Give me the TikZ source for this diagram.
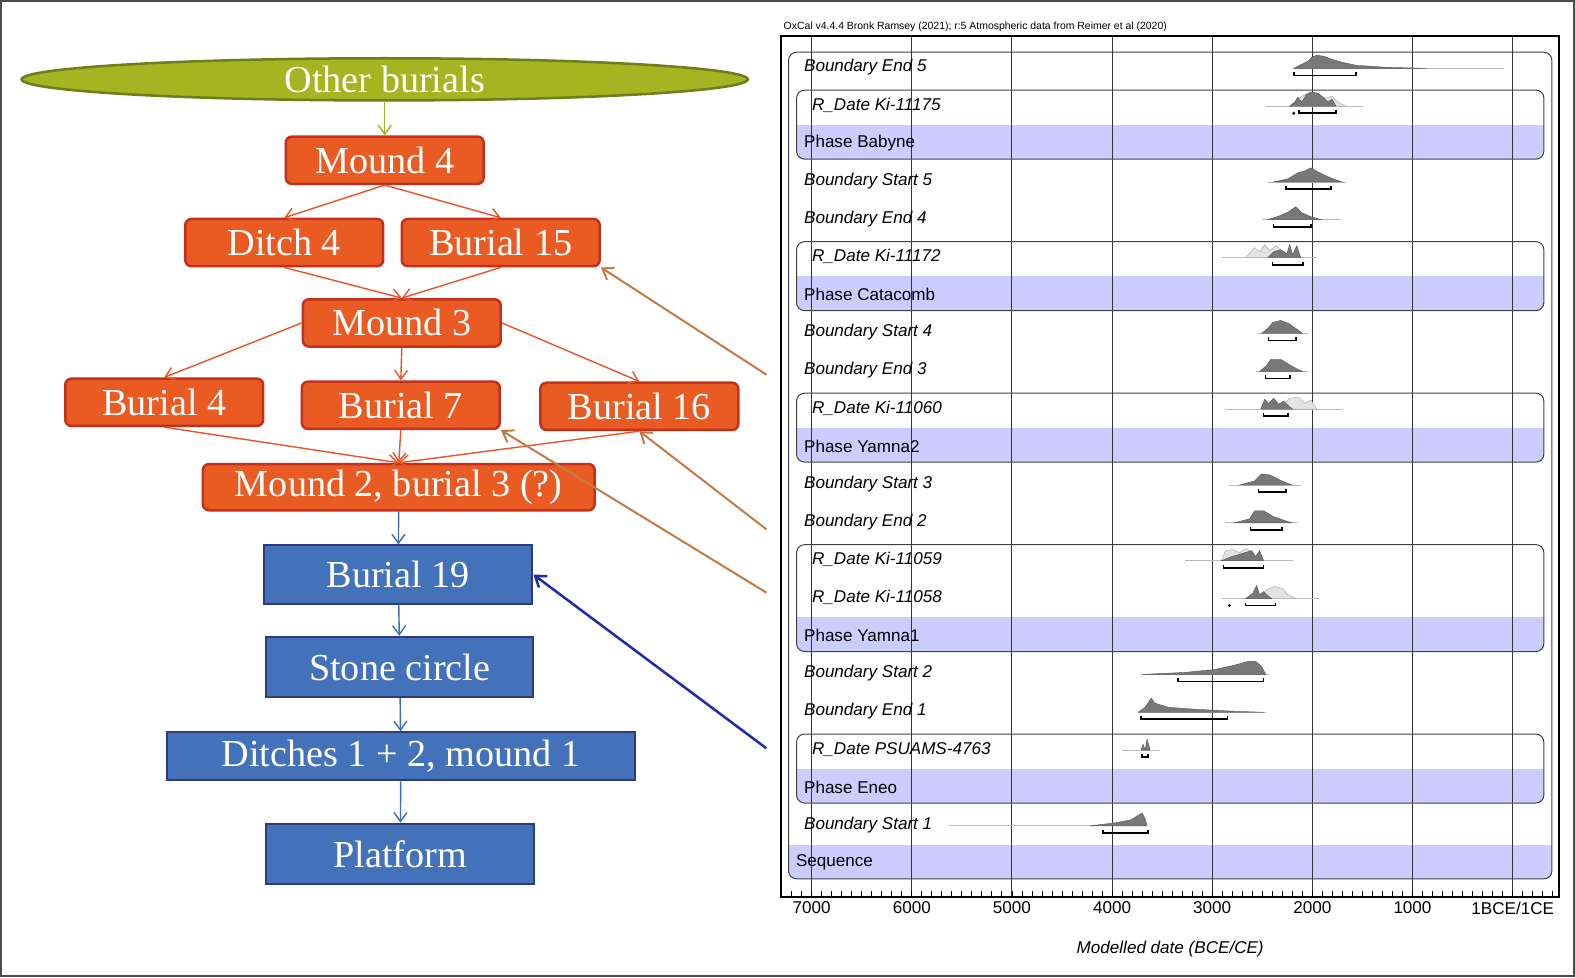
\documentclass[tikz,border=0pt]{standalone}
\usepackage{fontspec}
\setmainfont{Liberation Serif}
\setsansfont{Liberation Sans}
\usepackage{xcolor}
\usepackage{tikz}
\usetikzlibrary{positioning, arrows.meta, shapes.geometric}

\definecolor{olivefill}{HTML}{A5B420}
\definecolor{olivedark}{HTML}{6F7D1C}
\definecolor{olivearrow}{HTML}{A2B21E}
\definecolor{orangefill}{HTML}{E95B22}
\definecolor{orangedark}{HTML}{C4301C}
\definecolor{orangeline}{HTML}{E8542A}
\definecolor{bluefill}{HTML}{4472BA}
\definecolor{bluedark}{HTML}{2D3A7C}
\definecolor{blueline}{HTML}{3B6CB6}
\definecolor{brownline}{HTML}{C47A45}
\definecolor{navyline}{HTML}{1E2CA8}
\definecolor{phaseband}{HTML}{CCCCFF}
\definecolor{distgray}{HTML}{787878}

\begin{document}
\begin{tikzpicture}[x=1pt, y=-1pt,
    other/.style={draw=olivedark, fill=olivefill, ellipse, line width=2.5pt, minimum width=723pt, minimum height=42pt, inner sep=0pt, text=white, font=\fontsize{38}{40}\selectfont},
    late/.style={draw=orangedark, fill=orangefill, rounded corners=6pt, line width=2.5pt, minimum width=197pt, minimum height=47pt, inner sep=0pt, text=white, font=\fontsize{38}{40}\selectfont},
    early/.style={draw=bluedark, fill=bluefill, line width=2pt, minimum width=267pt, minimum height=59pt, inner sep=0pt, text=white, font=\fontsize{38}{40}\selectfont},
    link/.style={-{Straight Barb[length=9pt, width=13pt]}, line width=1.4pt},
    pointer/.style={-{Straight Barb[length=10pt, width=14pt]}, line width=2pt},
    bnd/.style={anchor=west, font=\fontsize{17}{20}\selectfont\sffamily\itshape},
    rdate/.style={bnd, xshift=8pt},
    phs/.style={anchor=west, font=\fontsize{17}{20}\selectfont\sffamily},
    seq/.style={phs, xshift=-8pt},
    band/.style={fill=phaseband},
    phasebox/.style={draw=black!75, line width=1pt, rounded corners=8pt},
    grid/.style={draw=black!80, line width=0.9pt},
    frame/.style={draw=black, line width=2pt},
    base/.style={draw=gray!55, line width=0.8pt},
    dist/.style={fill=distgray, draw=distgray!70!black, line width=0.4pt},
    lik/.style={fill=gray!22, draw=gray!65, line width=0.5pt},
    rng/.style={draw=black, line width=1.6pt},
    axis/.style={font=\fontsize{17}{20}\selectfont\sffamily},
]
\useasboundingbox (0, 0) rectangle (1568, 973);
\draw[line width=2pt, black!70] (1, 1) rectangle (1567, 972);

% sequence of contexts
\node[other] (other) at (383, 79) {Other burials};
\node[late] (m4) at (383, 159.5) {Mound 4};
\node[late] (d4) at (283, 241.5) {Ditch 4};
\node[late] (b15) at (498.5, 241.5) {Burial 15};
\node[late] (m3) at (400, 321.5) {Mound 3};
\node[late] (b4) at (163.5, 400.5) {Burial 4};
\node[late] (b7) at (399, 403.5) {Burial 7};
\node[late] (b16) at (636.5, 404.5) {Burial 16};
\node[late, minimum width=390pt, minimum height=46pt] (m2) at (397, 485) {Mound 2, burial 3 (?)};
\node[early, minimum height=58pt] (b19) at (396.5, 572) {Burial 19};
\node[early, minimum width=266pt, minimum height=60pt] (sc) at (398, 664) {Stone circle};
\node[early, minimum width=466pt, minimum height=48pt] (dit) at (399, 753) {Ditches 1 + 2, mound 1};
\node[early, minimum height=60pt] (pl) at (398.5, 850) {Platform};

\draw[link, olivearrow] (other) -- (m4);
\draw[link, orangeline] (m4.south) -- (d4.north);
\draw[link, orangeline] (m4.south) -- (b15.north);
\draw[link, orangeline] (d4.south) -- (m3.north);
\draw[link, orangeline] (b15.south) -- (m3.north);
\draw[link, orangeline] (m3.west) -- (b4.north);
\draw[link, orangeline] (m3.south) -- (b7.north);
\draw[link, orangeline] (m3.east) -- (b16.north);
\draw[link, orangeline] (b4.south) -- (m2.north);
\draw[link, orangeline] (b7.south) -- (m2.north);
\draw[link, orangeline] (b16.south) -- (m2.north);
\draw[link, blueline] (m2) -- (b19);
\draw[link, blueline] (b19) -- (sc);
\draw[link, blueline] (sc) -- (dit);
\draw[link, blueline] (dit) -- (pl);

\coordinate (p15) at (763, 373);
\coordinate (p16) at (763, 527);
\coordinate (p7) at (763, 590);
\coordinate (p19) at (763, 745);
\draw[pointer, brownline] (p15) -- (b15.south east);
\draw[pointer, brownline] (p16) -- (b16.south);
\draw[pointer, brownline] (p7) -- (b7.south east);
\draw[pointer, navyline, line width=2.5pt] (p19) -- (b19.east);

% OxCal plot
\node[anchor=west, inner sep=0pt, font=\fontsize{10.4}{12}\selectfont\sffamily] (head) at (780, 27) {OxCal v4.4.4 Bronk Ramsey (2021); r:5 Atmospheric data from Reimer et al (2020)};

\foreach \a/\b/\l/\r in {1/22/785/1545, 2/3/793/1537, 6/7/793/1537, 10/11/793/1537, 14/16/793/1537, 19/20/793/1537} {
  \begin{scope}
    \clip[rounded corners=8pt] (\l, {67+(\a-1)*37.71-15}) rectangle (\r, {67+(\b-1)*37.71+16});
    \fill[band] (\l, {67+(\b-1)*37.71-18}) rectangle (\r, {67+(\b-1)*37.71+16});
  \end{scope}
}
\foreach \k in {0,...,7}
  \draw[grid] ({808+99.7*\k}, 36) -- ({808+99.7*\k}, 893);
\foreach \a/\b/\l/\r in {1/22/785/1545, 2/3/793/1537, 6/7/793/1537, 10/11/793/1537, 14/16/793/1537, 19/20/793/1537}
  \draw[phasebox] (\l, {67+(\a-1)*37.71-15}) rectangle (\r, {67+(\b-1)*37.71+16});

\draw[frame] (778, 893) -- (778, 36) -- (1552, 36) -- (1552, 893) -- cycle;
\foreach \k in {-2,...,74}
  \draw[black, line width=0.8pt] ({808+9.97*\k}, 893) -- ({808+9.97*\k}, 887);

\foreach \k/\t in {0/7000, 1/6000, 2/5000, 3/4000, 4/3000, 5/2000, 6/1000}
  \node[axis] (ax\k) at ({808+99.7*\k}, 904) {\t};
\node[axis] (ax7) at (1506, 904) {1BCE/1CE};
\node[axis, font=\fontsize{17}{20}\selectfont\sffamily\itshape] (xlabel) at (1165, 945) {Modelled date (BCE/CE)};

\foreach \i/\s/\t in {1/bnd/Boundary End 5, 2/rdate/R\_Date Ki-11175, 3/phs/Phase Babyne, 4/bnd/Boundary Start 5, 5/bnd/Boundary End 4, 6/rdate/R\_Date Ki-11172, 7/phs/Phase Catacomb, 8/bnd/Boundary Start 4, 9/bnd/Boundary End 3, 10/rdate/R\_Date Ki-11060, 11/phs/Phase Yamna2, 12/bnd/Boundary Start 3, 13/bnd/Boundary End 2, 14/rdate/R\_Date Ki-11059, 15/rdate/R\_Date Ki-11058, 16/phs/Phase Yamna1, 17/bnd/Boundary Start 2, 18/bnd/Boundary End 1, 19/rdate/R\_Date PSUAMS-4763, 20/phs/Phase Eneo, 21/bnd/Boundary Start 1, 22/seq/Sequence}
  \node[\s] (row\i) at (797, {67+(\i-1)*37.71}) {\t};

% distributions
\begin{scope}[shift={(0, 67)}]
  \draw[base] (1288, 1) -- (1497, 1);
  \filldraw[dist] (1288, 1) -- (1296, -3) -- (1302, -6) -- (1306, -10) -- (1311, -12) -- (1318, -11) -- (1326, -8) -- (1336, -5) -- (1350, -2) -- (1380, 0) -- (1420, 1) -- cycle;
  \draw[rng] (1288, 5) -- (1288, 8) -- (1350, 8) -- (1350, 5);
\end{scope}
\begin{scope}[shift={(0, 104.7)}]
  \draw[base] (1260, 1) -- (1357, 1);
  \filldraw[lik] (1284, 1) -- (1292, -6) -- (1298, -10) -- (1304, -13) -- (1312, -11) -- (1320, -7) -- (1326, -9) -- (1332, -3) -- (1340, 1) -- cycle;
  \filldraw[dist] (1284, 1) -- (1289, -3) -- (1292, -8) -- (1296, -3) -- (1300, -10) -- (1305, -13) -- (1312, -12) -- (1318, -7) -- (1322, -3) -- (1326, -6) -- (1330, 1) -- cycle;
  \fill (1288, 8) circle (1.6);
  \draw[rng] (1293, 5) -- (1293, 8) -- (1330, 8) -- (1330, 5);
\end{scope}
\begin{scope}[shift={(0, 180.1)}]
  \draw[base] (1262, 1) -- (1340, 1);
  \filldraw[dist] (1268, 1) -- (1282, -2) -- (1292, -8) -- (1299, -10) -- (1305, -13) -- (1312, -9) -- (1320, -5) -- (1330, -1) -- (1336, 1) -- cycle;
  \draw[rng] (1280, 5) -- (1280, 8) -- (1325, 8) -- (1325, 5);
\end{scope}
\begin{scope}[shift={(0, 217.8)}]
  \draw[base] (1256, 1) -- (1335, 1);
  \filldraw[dist] (1262, 1) -- (1274, -3) -- (1283, -7) -- (1290, -12) -- (1296, -6) -- (1305, -2) -- (1316, 1) -- cycle;
  \draw[rng] (1268, 5) -- (1268, 8) -- (1305, 8) -- (1305, 5);
\end{scope}
\begin{scope}[shift={(0, 255.6)}]
  \draw[base] (1217, 1) -- (1310, 1);
  \filldraw[lik] (1240, 1) -- (1249, -9) -- (1254, -5) -- (1259, -12) -- (1264, -6) -- (1271, -11) -- (1277, -4) -- (1285, 1) -- cycle;
  \filldraw[dist] (1262, 1) -- (1268, -5) -- (1275, -7) -- (1281, -3) -- (1284, -12) -- (1287, -2) -- (1291, -11) -- (1295, 1) -- cycle;
  \draw[rng] (1267, 5) -- (1267, 8) -- (1297, 8) -- (1297, 5);
\end{scope}
\begin{scope}[shift={(0, 331.0)}]
  \draw[base] (1252, 1) -- (1302, 1);
  \filldraw[dist] (1256, 1) -- (1263, -5) -- (1267, -10) -- (1275, -12) -- (1283, -9) -- (1290, -4) -- (1297, 1) -- cycle;
  \draw[rng] (1263, 5) -- (1263, 8) -- (1290, 8) -- (1290, 5);
\end{scope}
\begin{scope}[shift={(0, 368.7)}]
  \draw[base] (1250, 1) -- (1302, 1);
  \filldraw[dist] (1254, 1) -- (1261, -5) -- (1265, -11) -- (1275, -11) -- (1283, -6) -- (1292, -1) -- (1297, 1) -- cycle;
  \draw[rng] (1260, 5) -- (1260, 8) -- (1284, 8) -- (1284, 5);
\end{scope}
\begin{scope}[shift={(0, 406.4)}]
  \draw[base] (1220, 1) -- (1337, 1);
  \filldraw[lik] (1262, 1) -- (1276, -3) -- (1284, -10) -- (1293, -11) -- (1299, -5) -- (1305, -8) -- (1311, 1) -- cycle;
  \filldraw[dist] (1255, 1) -- (1259, -9) -- (1263, -5) -- (1268, -10) -- (1273, -4) -- (1278, -7) -- (1283, -2) -- (1287, 1) -- cycle;
  \draw[rng] (1258, 5) -- (1258, 8) -- (1282, 8) -- (1282, 5);
\end{scope}
\begin{scope}[shift={(0, 481.8)}]
  \draw[base] (1224, 1) -- (1295, 1);
  \filldraw[dist] (1234, 1) -- (1249, -3) -- (1256, -10) -- (1264, -9) -- (1274, -4) -- (1286, 1) -- cycle;
  \draw[rng] (1253, 5) -- (1253, 8) -- (1280, 8) -- (1280, 5);
\end{scope}
\begin{scope}[shift={(0, 519.5)}]
  \draw[base] (1220, 1) -- (1292, 1);
  \filldraw[dist] (1229, 1) -- (1244, -3) -- (1249, -11) -- (1258, -11) -- (1268, -5) -- (1280, -1) -- (1286, 1) -- cycle;
  \draw[rng] (1245, 5) -- (1245, 8) -- (1276, 8) -- (1276, 5);
\end{scope}
\begin{scope}[shift={(0, 557.2)}]
  \draw[base] (1180, 1) -- (1287, 1);
  \filldraw[lik] (1216, 1) -- (1220, -9) -- (1227, -10) -- (1234, -7) -- (1240, -11) -- (1247, -8) -- (1252, 1) -- cycle;
  \filldraw[dist] (1216, 1) -- (1226, -3) -- (1236, -6) -- (1246, -9) -- (1250, -3) -- (1254, -9) -- (1258, 1) -- cycle;
  \draw[rng] (1218, 5) -- (1218, 8) -- (1258, 8) -- (1258, 5);
\end{scope}
\begin{scope}[shift={(0, 594.9)}]
  \draw[base] (1217, 1) -- (1313, 1);
  \filldraw[lik] (1254, 1) -- (1261, -8) -- (1269, -11) -- (1277, -9) -- (1282, -3) -- (1290, 1) -- cycle;
  \filldraw[dist] (1240, 1) -- (1247, -4) -- (1251, -12) -- (1254, -3) -- (1258, -6) -- (1262, -2) -- (1266, 1) -- cycle;
  \fill (1224, 8) circle (1.6);
  \draw[rng] (1240, 5) -- (1240, 8) -- (1270, 8) -- (1270, 5);
\end{scope}
\begin{scope}[shift={(0, 670.4)}]
  \draw[base] (1137, 1) -- (1263, 1);
  \filldraw[dist] (1137, 1) -- (1180, -1) -- (1210, -4) -- (1228, -8) -- (1243, -12) -- (1250, -12) -- (1256, -7) -- (1260, 1) -- cycle;
  \draw[rng] (1173, 5) -- (1173, 8) -- (1258, 8) -- (1258, 5);
\end{scope}
\begin{scope}[shift={(0, 708.1)}]
  \draw[base] (1133, 1) -- (1260, 1);
  \filldraw[dist] (1133, 1) -- (1140, -4) -- (1146, -13) -- (1150, -8) -- (1163, -4) -- (1190, -2) -- (1230, 0) -- (1258, 1) -- cycle;
  \draw[rng] (1136, 5) -- (1136, 8) -- (1222, 8) -- (1222, 5);
\end{scope}
\begin{scope}[shift={(0, 745.8)}]
  \draw[base] (1117, 1) -- (1155, 1);
  \filldraw[dist] (1136, 1) -- (1138, -5) -- (1140, 1) -- (1142, -10) -- (1145, 1) -- cycle;
  \draw[rng] (1137, 5) -- (1137, 8) -- (1143, 8) -- (1143, 5);
\end{scope}
\begin{scope}[shift={(0, 821.2)}]
  \draw[base] (945, 1) -- (1142, 1);
  \filldraw[dist] (1085, 1) -- (1110, -2) -- (1126, -5) -- (1137, -12) -- (1140, -6) -- (1142, 1) -- cycle;
  \draw[rng] (1098, 5) -- (1098, 8) -- (1143, 8) -- (1143, 5);
\end{scope}
\end{tikzpicture}
\end{document}
